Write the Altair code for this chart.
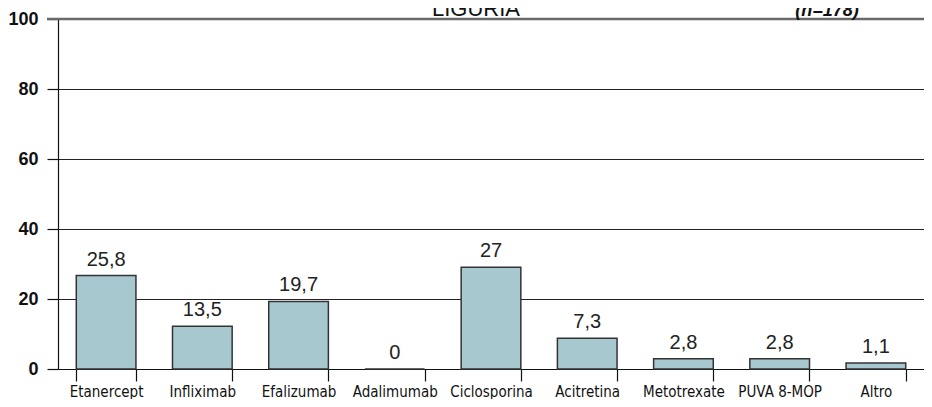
import altair as alt
import pandas as pd

categories = ["Etanercept", "Infliximab", "Efalizumab", "Adalimumab", "Ciclosporina",
              "Acitretina", "Metotrexate", "PUVA 8-MOP", "Altro"]
# bar heights as drawn in the picture
bar_heights = [26.7, 12.2, 19.3, 0, 29.1, 8.8, 2.9, 2.9, 1.7]
# value labels printed above the bars
value_labels = ["25,8", "13,5", "19,7", "0", "27", "7,3", "2,8", "2,8", "1,1"]
y_ticks = [0, 20, 40, 60, 80, 100]
title_text = ["LIGURIA"]
sample_text = ["(n=178)"]

df = pd.DataFrame({"cat": categories, "h": bar_heights, "lab": value_labels})

NARROW = "DejaVu Sans Condensed, Liberation Sans, sans-serif"
REG = "Liberation Sans, Arial, sans-serif"

W, H = 866, 350

x_enc = alt.X(
    "cat:N", sort=categories, title=None,
    scale=alt.Scale(paddingInner=0.38, paddingOuter=0.19),
    axis=alt.Axis(labelAngle=0, tickBand="extent", tickSize=12, tickColor="#111",
                  tickWidth=1.2, domainColor="#111", domainWidth=1.2,
                  labelFont=NARROW, labelFontSize=15, labelColor="#111",
                  labelPadding=3, grid=False),
)
y_enc = alt.Y(
    "h:Q", title=None, scale=alt.Scale(domain=[0, 100]),
    axis=alt.Axis(values=y_ticks, tickSize=11, tickColor="#111", tickWidth=1.2,
                  domainColor="#111", domainWidth=1.2,
                  grid=True, gridColor="#222", gridWidth=1.2,
                  labelFont=REG, labelFontWeight="bold", labelFontSize=18,
                  labelColor="#111", labelPadding=9),
)

base = alt.Chart(df)
bars = base.mark_bar(color="#a8c8d0", stroke="#333", strokeWidth=1.5).encode(x=x_enc, y=y_enc)
texts = base.mark_text(dy=-10, baseline="alphabetic", font=REG, fontSize=20,
                       color="#222").encode(
    x=alt.X("cat:N", sort=categories), y=alt.Y("h:Q"), text="lab:N")

top_rule = alt.Chart(pd.DataFrame({"v": [100]})).mark_rule(
    color="#6a6a6a", strokeWidth=2.5).encode(
    y=alt.Y("v:Q"), x=alt.value(-11), x2=alt.value(W))

title = alt.Chart(pd.DataFrame({"t": title_text})).mark_text(
    font=REG, fontSize=22, color="#111", align="center", baseline="alphabetic").encode(
    x=alt.value(418), y=alt.value(-3), text="t:N")

sample = alt.Chart(pd.DataFrame({"t": sample_text})).mark_text(
    font=REG, fontSize=18, fontWeight="bold", fontStyle="italic", color="#111",
    align="center", baseline="alphabetic").encode(
    x=alt.value(769), y=alt.value(-3), text="t:N")

chart = alt.layer(bars, top_rule, texts, title, sample).properties(
    width=W, height=H,
    autosize=alt.AutoSizeParams(type="none"),
    padding={"left": 50, "top": 11, "right": 0, "bottom": 30},
).configure_view(stroke=None)

chart.save("out.html", embed_options={"renderer": "svg", "actions": False})
